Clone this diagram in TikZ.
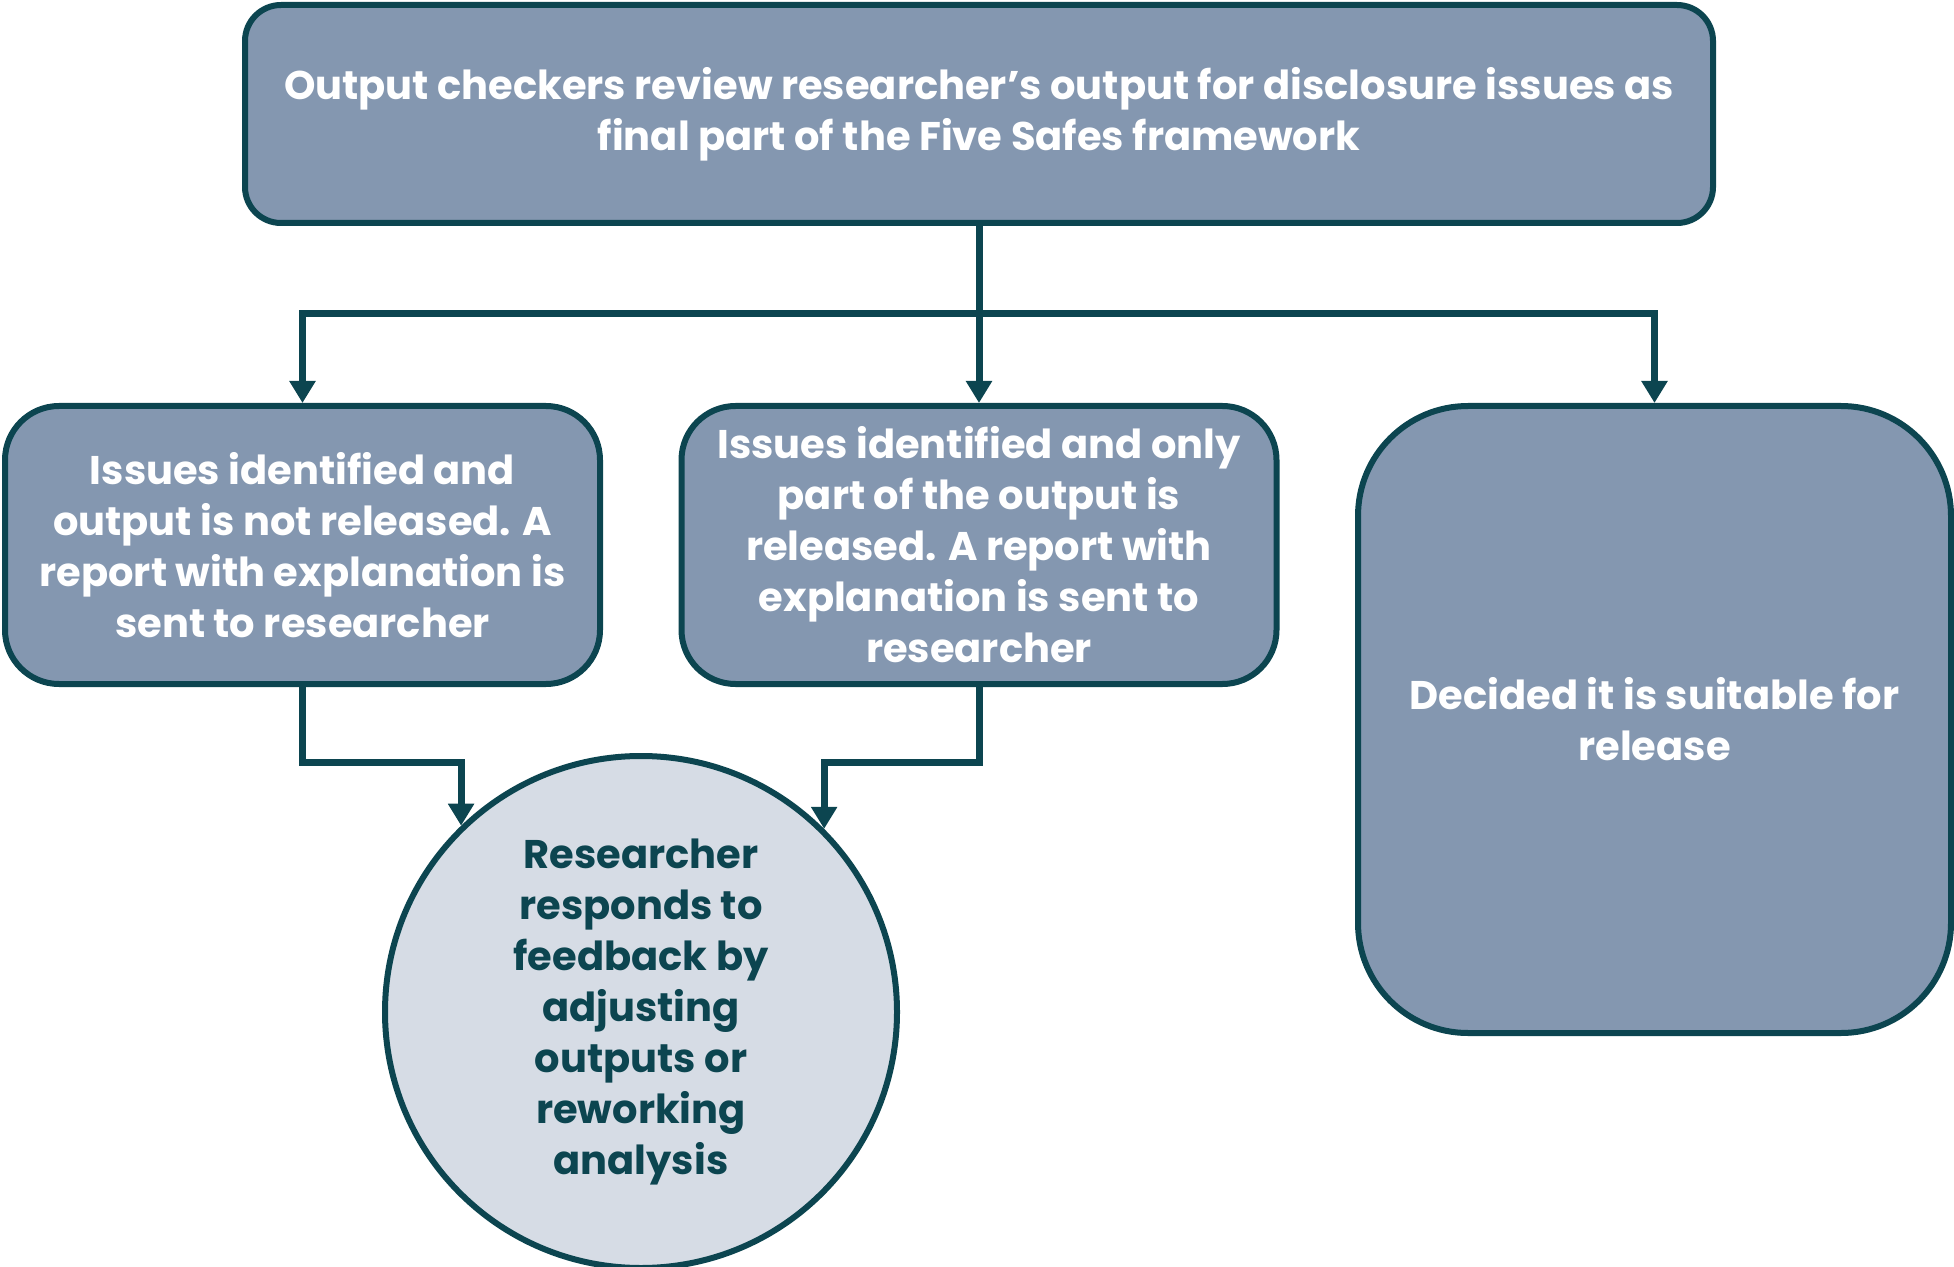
\documentclass[tikz,border=0pt]{standalone}
\usepackage{fontspec}
\setmainfont{Poppins}
\usetikzlibrary{arrows.meta}
\definecolor{boxfill}{HTML}{8497B0}
\definecolor{teal}{HTML}{0C4550}
\definecolor{circfill}{HTML}{D6DCE5}
\tikzset{
  box/.style={draw=teal, fill=boxfill, line width=3pt, text=white, align=center,
    font=\fontsize{20}{25.5}\selectfont\bfseries, inner sep=0pt},
  circbox/.style={circle, draw=teal, fill=circfill, line width=3pt, text=teal, align=center,
    font=\fontsize{20}{25.5}\selectfont\bfseries, inner sep=0pt, minimum size=256pt},
  conn/.style={draw=teal, line width=3.5pt, line join=miter},
  arr/.style={conn, -{Triangle[width=12.5pt,length=11pt]}}
}
\begin{document}
\begin{tikzpicture}[x=0.5pt,y=-0.5pt]
\useasboundingbox (0,0) rectangle (1954,1267);
\node[box, minimum width=734pt, minimum height=109pt, rounded corners=18pt] (top) at (979,114)
  {Output checkers review researcher’s output for disclosure issues as\\final part of the Five Safes framework};
\node[box, minimum width=297.5pt, minimum height=139pt, rounded corners=27pt] (left) at (302.5,545)
  {Issues identified and\\output is not released. A\\report with explanation is\\sent to researcher};
\node[box, minimum width=297.5pt, minimum height=139pt, rounded corners=27pt] (mid) at (979,545)
  {Issues identified and only\\part of the output is\\released. A report with\\explanation is sent to\\researcher};
\node[box, minimum width=296.5pt, minimum height=313.5pt, rounded corners=55pt] (right) at (1654.5,719.5)
  {Decided it is suitable for\\release};
\node[circbox] (circ) at (641,1012)
  {Researcher\\responds to\\feedback by\\adjusting\\outputs or\\reworking\\analysis};
\coordinate (j) at (979,314);
\draw[conn] (top.south) -- (j);
\draw[arr] (j) -| (left.north);
\draw[arr] (j) -- (mid.north);
\draw[arr] (j) -| (right.north);
\draw[arr] (left.south) -- ++(0,75) -| (circ.134.7);
\draw[arr] (mid.south) -- ++(0,75) -| (circ.45.3);
\end{tikzpicture}
\end{document}
